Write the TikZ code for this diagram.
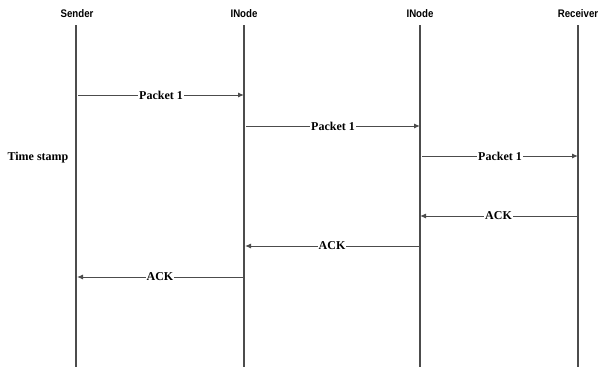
\documentclass[tikz,border=0pt]{standalone}
\usepackage{fontspec}
\setmainfont{Liberation Serif}
\newfontfamily\hdrfont{Liberation Sans}
\usetikzlibrary{arrows.meta}
\begin{document}
\begin{tikzpicture}[x=1pt,y=-1pt,
  life/.style={draw=black!70,line width=1.1pt},
  hdr/.style={font=\hdrfont\bfseries\fontsize{11}{12}\selectfont,inner sep=0pt},
  msg/.style={draw=black!70,line width=1pt,-{Latex[length=6pt,width=5pt]}},
  lbl/.style={font=\bfseries\fontsize{12}{13}\selectfont,fill=white,inner sep=1pt}]
\useasboundingbox (0,0) rectangle (601,367);
% headers
\node[hdr] (hs) at (77,14) {\scalebox{0.88}[1]{Sender}};
\node[hdr] (h1) at (244,14) {\scalebox{0.88}[1]{INode}};
\node[hdr] (h2) at (420,14) {\scalebox{0.88}[1]{INode}};
\node[hdr] (hr) at (578,14) {\scalebox{0.88}[1]{Receiver}};
% lifeline ends
\coordinate (s0) at (76,25);  \coordinate (s1) at (76,367);
\coordinate (a0) at (244,25); \coordinate (a1) at (244,367);
\coordinate (b0) at (420,25); \coordinate (b1) at (420,367);
\coordinate (r0) at (578,25); \coordinate (r1) at (578,367);
\draw[life] (s0) -- (s1);
\draw[life] (a0) -- (a1);
\draw[life] (b0) -- (b1);
\draw[life] (r0) -- (r1);
% message endpoints
\coordinate (m1s) at (78,95);   \coordinate (m1e) at (244,95);
\coordinate (m2s) at (246,126); \coordinate (m2e) at (420,126);
\coordinate (m3s) at (422,156); \coordinate (m3e) at (578,156);
\coordinate (m4s) at (577,216); \coordinate (m4e) at (420,216);
\coordinate (m5s) at (419,246); \coordinate (m5e) at (245,246);
\coordinate (m6s) at (243,277); \coordinate (m6e) at (77,277);
\draw[msg] (m1s) -- node[lbl] (l1) {Packet 1} (m1e);
\draw[msg] (m2s) -- node[lbl] (l2) {Packet 1} (m2e);
\draw[msg] (m3s) -- node[lbl] (l3) {Packet 1} (m3e);
\draw[msg] (m4s) -- node[lbl] (l4) {ACK} (m4e);
\draw[msg] (m5s) -- node[lbl] (l5) {ACK} (m5e);
\draw[msg] (m6s) -- node[lbl] (l6) {ACK} (m6e);
\node[font=\bfseries\fontsize{12}{13}\selectfont,inner sep=0pt] (ts) at (38,158) {Time stamp};
\end{tikzpicture}
\end{document}
